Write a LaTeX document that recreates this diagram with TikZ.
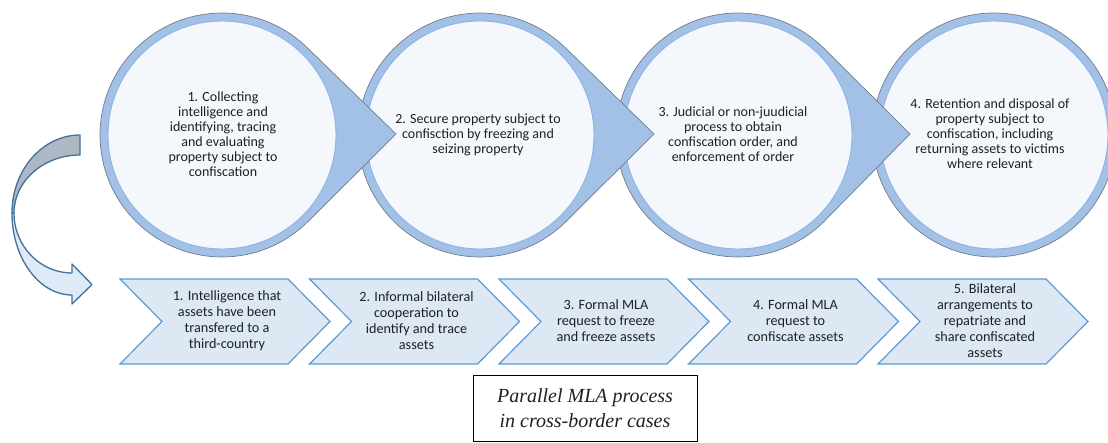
\documentclass[tikz,border=0pt]{standalone}
\usepackage{fontspec}
\setmainfont{Carlito}
\newfontfamily\captionserif{Liberation Serif}
\begin{document}
\definecolor{ringblue}{HTML}{A3C1E6}
\definecolor{ringline}{HTML}{6F7C8E}
\definecolor{innerfill}{HTML}{F4F7FB}
\definecolor{innerline}{HTML}{8DB3E2}
\definecolor{chevfill}{HTML}{DDE8F5}
\definecolor{chevline}{HTML}{5B9BD5}
\definecolor{arrowline}{HTML}{41719C}
\definecolor{arrowback}{HTML}{AEB8C5}
\definecolor{arrowfront}{HTML}{DEEAF6}
\definecolor{txt}{HTML}{202020}
\begin{tikzpicture}[x=1pt,y=1pt,
  ring/.style={fill=ringblue,draw=ringline,line width=0.7pt,line join=round},
  inner/.style={fill=innerfill,draw=innerline,line width=0.9pt},
  ctext/.style={align=center,text=txt,font=\fontsize{14}{15}\selectfont,inner sep=0pt},
  chev/.style={fill=chevfill,draw=chevline,line width=1.2pt,line join=miter},
  chtext/.style={align=center,text=txt,font=\fontsize{14.2}{16}\selectfont,inner sep=0pt},
  curl/.style={draw=arrowline,line width=1.3pt,line join=round}]
\useasboundingbox (0,0) rectangle (1108,442);

% circles with pointers, last one first so each pointer lies on top of the next circle
\draw[ring] (994,307) circle[radius=122];
\draw[inner] (994,307) circle[radius=114];
\foreach \cx/\tip in {738/910, 480/654, 222/396}{
  \draw[ring] (\tip,308) -- ([shift={(\cx,307)}]45.5:122)
     arc[start angle=45.5, end angle=314.5, radius=122] -- cycle;
  \draw[inner] (\cx,307) circle[radius=114];
}

\node[ctext] (c1) at (223,308) {1. Collecting\\intelligence and\\identifying, tracing\\and evaluating\\property subject to\\confiscation};
\node[ctext] (c2) at (478,307) {2. Secure property subject to\\confisction by freezing and\\seizing property};
\node[ctext] (c3) at (733,308) {3. Judicial or non-juudicial\\process to obtain\\confiscation order, and\\enforcement of order};
\node[ctext] (c4) at (990,308) {4. Retention and disposal of\\property subject to\\confiscation, including\\returning assets to victims\\where relevant};

% chevron row
\foreach \k in {0,...,4}{
  \pgfmathsetmacro\xl{120+189.5*\k}
  \draw[chev] (\xl,163) -- ({\xl+168},163) -- ({\xl+210},120.5) -- ({\xl+168},78)
     -- (\xl,78) -- ({\xl+42},120.5) -- cycle;
}
\node[chtext] (m1) at (227,121.5) {1. Intelligence that\\assets have been\\transfered to a\\third-country};
\node[chtext] (m2) at (416.5,121.5) {2. Informal bilateral\\cooperation to\\identify and trace\\assets};
\node[chtext] (m3) at (606,121.5) {3. Formal MLA\\request to freeze\\and freeze assets};
\node[chtext] (m4) at (795.5,121.5) {4. Formal MLA\\request to\\confiscate assets};
\node[chtext] (m5) at (985,121) {5. Bilateral\\arrangements to\\repatriate and\\share confiscated\\assets};

% curved arrow from the upper process to the lower one
\draw[curl,fill=arrowback] (80,307) .. controls (42.5,307) and (12,272) .. (12,229)
   -- (14,229) .. controls (14,261) and (43.6,287) .. (80,287) -- cycle;
\draw[curl,fill=arrowfront] (12,229) .. controls (12,184) and (39,147) .. (72,147)
   -- (72,138) -- (92,157.5) -- (72,178) -- (72,169)
   .. controls (40,169) and (14,196) .. (14,229) -- cycle;

% caption
\node[draw=black,line width=0.8pt,minimum width=224pt,minimum height=66pt,inner sep=0pt,
  align=center,font=\captionserif\itshape\fontsize{20}{25}\selectfont,text=txt]
  (cap) at (585,34) {Parallel MLA process\\in cross-border cases};
\end{tikzpicture}
\end{document}
